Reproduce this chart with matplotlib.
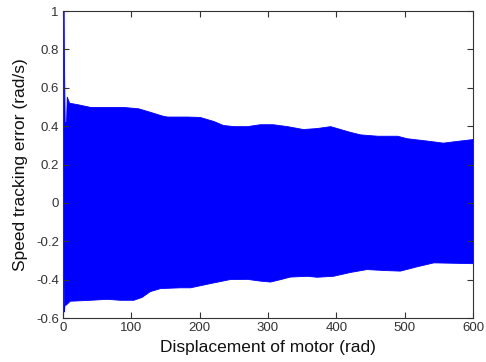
import matplotlib
matplotlib.use("Agg")
import matplotlib.pyplot as plt
import numpy as np

plt.rcParams['font.family'] = ['Liberation Sans', 'DejaVu Sans']

# Upper envelope of the speed tracking error
upper_x = [0, 1.0, 1.3, 2.5, 4.5, 5.5, 9, 20, 40, 60, 88, 110, 127, 145, 152, 181, 200,
           220, 234, 250, 269, 288, 307, 328, 351, 371, 391, 420, 435, 460, 489,
           503, 532, 556, 576, 600]
upper_y = [1.0, 1.0, 0.78, 0.42, 0.42, 0.554, 0.522, 0.515, 0.50, 0.50, 0.50, 0.493,
           0.475, 0.455, 0.45, 0.45, 0.448, 0.427, 0.406, 0.40, 0.40, 0.41, 0.41,
           0.40, 0.385, 0.39, 0.40, 0.37, 0.357, 0.35, 0.35, 0.337, 0.325, 0.314,
           0.323, 0.333]

# Lower envelope
lower_x = [0, 1.2, 2.2, 4, 10, 40, 64, 83, 103, 115, 127, 142, 171, 186, 215, 244, 269,
           288, 303, 318, 332, 357, 371, 395, 420, 444, 470, 493, 518, 542, 570,
           596, 600]
lower_y = [-0.05, -0.566, -0.53, -0.53, -0.51, -0.505, -0.50, -0.505, -0.505, -0.49,
           -0.46, -0.444, -0.44, -0.44, -0.418, -0.397, -0.396, -0.405, -0.41,
           -0.397, -0.384, -0.38, -0.385, -0.38, -0.36, -0.345, -0.35, -0.353,
           -0.33, -0.31, -0.312, -0.314, -0.314]

grid = np.array(sorted(set(upper_x) | set(lower_x)), dtype=float)
up = np.interp(grid, upper_x, upper_y)
lo = np.interp(grid, lower_x, lower_y)

xticks = [0, 100, 200, 300, 400, 500, 600]
yticks = [-0.6, -0.4, -0.2, 0, 0.2, 0.4, 0.6, 0.8, 1.0]
ytick_labels = ['-0.6', '-0.4', '-0.2', '0', '0.2', '0.4', '0.6', '0.8', '1']

fig = plt.figure(figsize=(4.86, 3.62), dpi=100)
ax = fig.add_axes([0.1296, 0.1215, 0.8437, 0.8481])
ax.fill_between(grid, lo, up, color='#0000ff', linewidth=0.6, edgecolor='#0000ff')

ax.set_xlim(0, 600)
ax.set_ylim(-0.6, 1.0)
ax.set_xticks(xticks)
ax.set_xticklabels([str(v) for v in xticks])
ax.set_yticks(yticks)
ax.set_yticklabels(ytick_labels)
ax.tick_params(direction='in', length=4, width=0.8, top=True, right=True,
               labelsize=9.5, colors='#333333', labelcolor='#333333', pad=3)
for s in ax.spines.values():
    s.set_color('#333333')
    s.set_linewidth(0.8)

ax.set_xlabel('Displacement of motor (rad)', fontsize=12.5, color='#111111', labelpad=4)
ax.set_ylabel('Speed tracking error (rad/s)', fontsize=12.5, color='#111111', labelpad=6)

fig.savefig('out.png', dpi=100)
